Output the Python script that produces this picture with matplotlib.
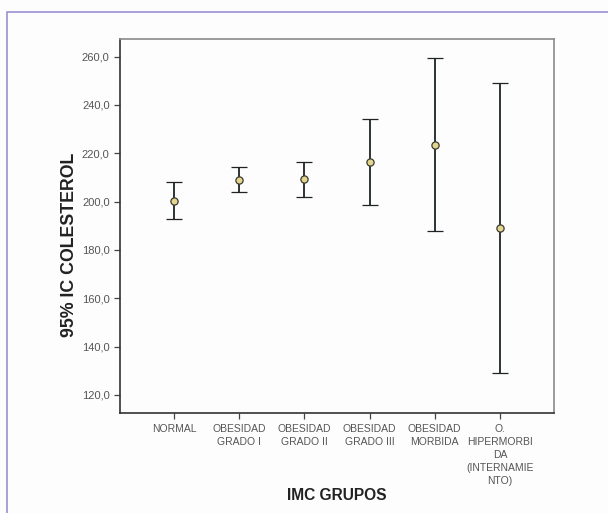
import matplotlib
matplotlib.use("Agg")
import matplotlib.pyplot as plt
from matplotlib.patches import Rectangle
from matplotlib.ticker import FuncFormatter

categories = ["NORMAL", "OBESIDAD\nGRADO I", "OBESIDAD\nGRADO II", "OBESIDAD\nGRADO III",
              "OBESIDAD\nMORBIDA", "O.\nHIPERMORBI\nDA\n(INTERNAMIE\nNTO)"]
means = [200.4, 208.9, 209.2, 216.4, 223.5, 189.2]
lower = [192.6, 203.8, 202.0, 198.7, 187.8, 129.2]
upper = [208.1, 214.3, 216.5, 234.0, 259.6, 249.2]
yticks = [120, 140, 160, 180, 200, 220, 240, 260]

plt.rcParams['font.family'] = ['Liberation Sans', 'DejaVu Sans']

W, H = 608, 513
fig = plt.figure(figsize=(W / 100, H / 100), dpi=100)
fig.patch.set_facecolor('#fdfdfd')

# outer frame (top and left visible)
fig.add_artist(Rectangle((7 / W, -0.01), 1.02, (H - 12) / H + 0.01, transform=fig.transFigure,
                         fill=False, edgecolor='#9b90d2', linewidth=1.2))

ax = fig.add_axes([120 / W, 1 - 413 / H, (554 - 120) / W, (413 - 39) / H])
ax.set_facecolor('#fdfdfd')

x = list(range(len(categories)))
yerr = [[m - l for m, l in zip(means, lower)], [u - m for u, m in zip(upper, means)]]
ax.errorbar(x, means, yerr=yerr, fmt='o', color='#1e2326', ecolor='#1e2326',
            elinewidth=1.3, capsize=5.8, capthick=1.3,
            markersize=5.2, markerfacecolor='#e3d48e', markeredgecolor='#3a3a30',
            markeredgewidth=0.9, zorder=3)

ax.set_xlim(-0.83, 5.83)
ax.set_ylim(112.5, 267.3)
ax.set_yticks(yticks)
ax.yaxis.set_major_formatter(FuncFormatter(lambda v, p: f"{v:.1f}".replace('.', ',')))
ax.set_xticks(x)
ax.set_xticklabels(categories, linespacing=1.38)

ax.tick_params(axis='both', colors='#444444', length=4, width=0.9,
               labelcolor='#555555')
ax.tick_params(axis='x', pad=4, labelsize=7.5)
ax.tick_params(axis='y', pad=3.5, labelsize=8)

for s in ['left', 'bottom']:
    ax.spines[s].set_color('#333333')
    ax.spines[s].set_linewidth(1.2)
for s in ['top', 'right']:
    ax.spines[s].set_color('#8a8a8a')
    ax.spines[s].set_linewidth(1.2)

fig.text(70 / W, 1 - 245 / H, "95% IC COLESTEROL", rotation=90, ha='center', va='center',
         fontsize=12.8, fontweight='bold', color='#222222')
fig.text(337 / W, 1 - 495 / H, "IMC GRUPOS", ha='center', va='center',
         fontsize=11.2, fontweight='bold', color='#222222')

fig.savefig("out.png", dpi=100, facecolor=fig.get_facecolor())
